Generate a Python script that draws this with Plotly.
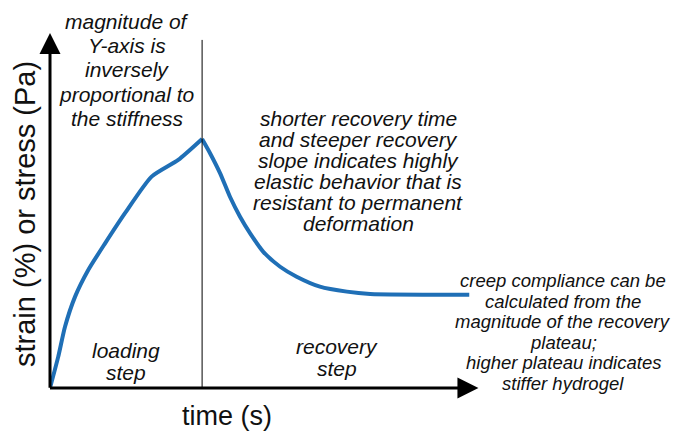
import plotly.graph_objects as go

# loading step (rise) and recovery step (decay)
rise_time = [0.0, 0.27, 0.49, 0.82, 1.25, 1.80, 2.45, 3.32, 4.19, 4.97]
rise_strain = [0.0, 1.26, 2.46, 3.67, 4.74, 5.81, 7.02, 8.49, 9.16, 10.0]
decay_time = [4.97, 5.23, 5.56, 5.88, 6.21, 6.54, 6.97, 7.52, 8.06, 8.82, 9.70, 10.46, 13.7]
decay_strain = [10.0, 9.43, 8.62, 7.68, 6.88, 6.21, 5.47, 4.87, 4.47, 4.07, 3.87, 3.78, 3.75]

step_change = 4.97
x_axis_end = 14.0
y_axis_end = 14.26

left_note = ["magnitude of", "Y-axis is", "inversely", "proportional to", "the stiffness"]
mid_note = ["shorter recovery time", "and steeper recovery", "slope indicates highly",
            "elastic behavior that is", "resistant to permanent", "deformation"]
right_note = ["creep compliance can be", "calculated from the", "magnitude of the recovery",
              "plateau;", "higher plateau indicates", "stiffer hydrogel"]

blue = "#1f6fb6"
txt_font = "Liberation Sans, Arial, sans-serif"


def px(x, y):
    # pixel spot in the browser window -> data coords
    return (x - 50) / 30.6, (388 - y) / 24.9


fig = go.Figure()
for t, s in [(rise_time, rise_strain), (decay_time, decay_strain)]:
    fig.add_trace(go.Scatter(
        x=t, y=s, mode="lines",
        line=dict(color=blue, width=4, shape="spline", smoothing=0.6),
        hoverinfo="skip", showlegend=False,
    ))

# divider between loading and recovery
fig.add_shape(type="line", x0=step_change, x1=step_change, y0=0, y1=13.98,
              line=dict(color="black", width=1))

# axis arrows
for tip, tail in [((x_axis_end, 0), (-0.05, 0)), ((0, y_axis_end), (0, -0.05))]:
    fig.add_annotation(x=tip[0], y=tip[1], ax=tail[0], ay=tail[1],
                       xref="x", yref="y", axref="x", ayref="y", text="",
                       showarrow=True, arrowhead=2, arrowsize=1.4,
                       arrowwidth=3, arrowcolor="black")


def note(text, x, y, size, italic=True, angle=0):
    dx, dy = px(x, y)
    fig.add_annotation(x=dx, y=dy, xref="x", yref="y", text=text,
                       showarrow=False, textangle=angle, align="center",
                       font=dict(family=txt_font, size=size, color="#111",
                                 style="italic" if italic else "normal"))


for i, line in enumerate(left_note):
    note(line, 127, 21 + 24.4 * i, 21)
for i, line in enumerate(mid_note):
    note(line, 358, 118 + 21 * i, 21)
for i, line in enumerate(right_note):
    note(line, 563, 280.5 + 20.6 * i, 18.5)
note("loading", 126, 350, 21)
note("step", 126, 372, 21)
note("recovery", 337, 346, 21)
note("step", 337, 368.5, 21)

# axis titles sit outside the data range, so place them on paper coords
title_font = dict(family=txt_font, size=27, color="#111")
fig.add_annotation(x=(227 - 50) / 609, y=(388 - 416) / 368, xref="paper", yref="paper",
                   xanchor="center", yanchor="middle",
                   text="time (s)", showarrow=False, font=title_font)
fig.add_annotation(x=(25 - 50) / 609, y=(388 - 214) / 368, xref="paper", yref="paper",
                   xanchor="center", yanchor="middle",
                   text="strain (%) or stress (Pa)", showarrow=False, textangle=-90,
                   font=dict(title_font, size=29))

fig.update_xaxes(range=[0, 19.9], visible=False)
fig.update_yaxes(range=[0, 14.78], visible=False)
# the page body adds an 8px offset, so the figure is 8px smaller on each side
fig.update_layout(
    width=673, height=424,
    margin=dict(l=42, r=22, t=12, b=44, autoexpand=False),
    plot_bgcolor="white", paper_bgcolor="white",
)

fig.write_html("out.html")
